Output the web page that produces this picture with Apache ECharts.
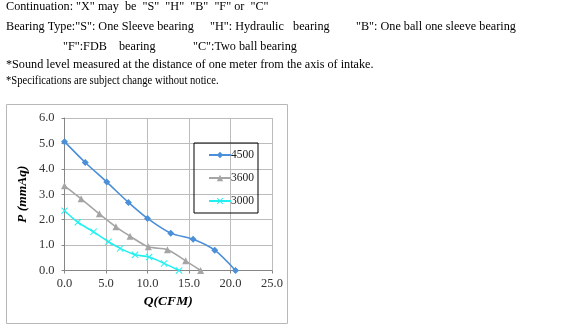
<!DOCTYPE html>
<html><head><meta charset="utf-8">
<script src="https://cdn.jsdelivr.net/npm/echarts@6/dist/echarts.min.js"></script>
<style>html,body{margin:0;padding:0;background:#fff}#c{width:564px;height:330px}</style>
</head><body><div id="c"></div>
<script>
var headerLines = [
  'Continuation: "X" may  be  "S"  "H"  "B"  "F" or  "C"',
  'Bearing Type:"S": One Sleeve bearing',
  '"H": Hydraulic   bearing',
  '"B": One ball one sleeve bearing',
  '"F":FDB    bearing',
  '"C":Two ball bearing',
  '*Sound level measured at the distance of one meter from the axis of intake.',
  '*Specifications are subject change without notice.'
];
var seriesNames = ['4500', '3600', '3000'];
var s4500 = [[0,5.07],[2.5,4.25],[5.1,3.48],[7.7,2.68],[10.0,2.05],[12.8,1.47],[15.5,1.23],[18.1,0.8],[20.6,0]];
var s3600 = [[0,3.33],[2.0,2.82],[4.2,2.23],[6.2,1.72],[7.9,1.35],[10.1,0.93],[12.4,0.82],[14.6,0.38],[16.4,0]];
var s3000 = [[0,2.35],[1.6,1.9],[3.5,1.52],[5.3,1.13],[6.7,0.87],[8.5,0.62],[10.2,0.53],[12.0,0.28],[13.8,0]];
var xTitle = 'Q(CFM)';
var yTitle = 'P (mmAq)';

var serif = '"Liberation Serif", "DejaVu Serif", serif';
var xShape = 'path://M0,1L1,0L5,4L9,0L10,1L6,5L10,9L9,10L5,6L1,10L0,9L4,5Z';

var chart = echarts.init(document.getElementById('c'), null, {renderer:'canvas'});
function txt(s, x, y, sx) {
  return {type:'text', x:x, y:y, scaleX:sx || 1,
    style:{text:s, font:'12.2px ' + serif, fill:'#000', textVerticalAlign:'top'}};
}
var option = {
  animation:false,
  backgroundColor:'#fff',
  graphic:[
    {type:'rect', shape:{x:6.5, y:104.5, width:281, height:219}, style:{fill:'none', stroke:'#b8b8b8', lineWidth:1}, z:-10},
    txt(headerLines[0], 6, 1),
    txt(headerLines[1], 6, 21),
    txt(headerLines[2], 210, 21),
    txt(headerLines[3], 356, 21),
    txt(headerLines[4], 63, 41),
    txt(headerLines[5], 193, 41),
    txt(headerLines[6], 6, 59),
    txt(headerLines[7], 6, 75, 0.87)
  ],
  grid:{left:64.5, right:292, top:118, bottom:59.5, containLabel:false},
  legend:{
    orient:'vertical', left:194, top:143, width:74, height:66,
    borderColor:'#000', borderWidth:1, padding:[6,4,6,14],
    itemWidth:22, itemHeight:8, itemGap:11,
    textStyle:{fontFamily:serif, fontSize:11.5, color:'#222', padding:[0,0,0,-5]},
    data:seriesNames
  },
  xAxis:{
    type:'value', min:0, max:25, interval:5,
    name:xTitle, nameLocation:'middle', nameGap:24,
    nameTextStyle:{fontFamily:serif, fontSize:13.5, fontWeight:'bold', fontStyle:'italic', color:'#000'},
    axisLine:{show:true, lineStyle:{color:'#868686'}},
    axisTick:{show:true, length:3, lineStyle:{color:'#868686'}},
    axisLabel:{fontFamily:serif, fontSize:12.5, color:'#333', margin:7, formatter:function(v){return v.toFixed(1);}},
    splitLine:{show:true, lineStyle:{color:'#bcbcbc'}}
  },
  yAxis:{
    type:'value', min:0, max:6, interval:1,
    name:yTitle, nameLocation:'middle', nameGap:35, nameRotate:90,
    nameTextStyle:{fontFamily:serif, fontSize:13.5, fontWeight:'bold', fontStyle:'italic', color:'#000'},
    axisLine:{show:true, lineStyle:{color:'#868686'}},
    axisTick:{show:true, length:3, lineStyle:{color:'#868686'}},
    axisLabel:{fontFamily:serif, fontSize:12.5, color:'#333', margin:10, formatter:function(v){return v.toFixed(1);}},
    splitLine:{show:true, lineStyle:{color:'#bcbcbc'}}
  },
  series:[
    {name:seriesNames[0], type:'line', data:s4500, smooth:0.3, symbol:'diamond', symbolSize:7,
     lineStyle:{color:'#4a8fd8', width:1.6}, itemStyle:{color:'#4a8fd8'}},
    {name:seriesNames[1], type:'line', data:s3600, smooth:0.3, symbol:'triangle', symbolSize:7,
     lineStyle:{color:'#a5a5a5', width:1.6}, itemStyle:{color:'#a5a5a5'}},
    {name:seriesNames[2], type:'line', data:s3000, smooth:0.3, symbol:xShape, symbolSize:7,
     lineStyle:{color:'#22f0f0', width:1.6}, itemStyle:{color:'#22f0f0'}}
  ]
};
chart.setOption(option);
</script></body></html>
